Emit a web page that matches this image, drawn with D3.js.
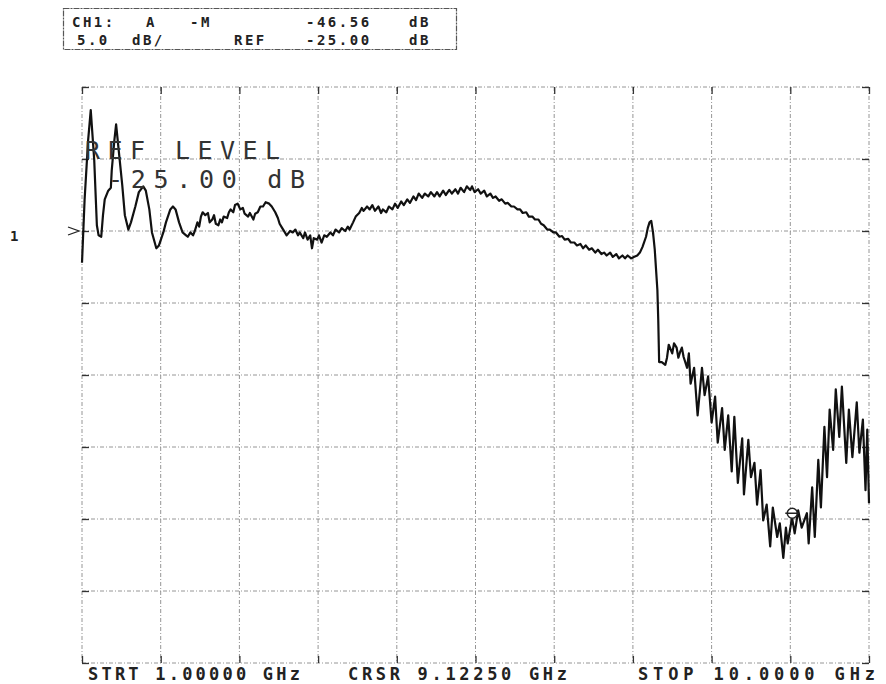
<!DOCTYPE html>
<html>
<head>
<meta charset="utf-8">
<script src="https://cdn.jsdelivr.net/npm/d3@7"></script>
<style>
  body { margin: 0; background: #fff; }
  svg { display: block; }
  text { font-family: "DejaVu Sans Mono", monospace; fill: #222; }
</style>
</head>
<body>
<div id="chart"></div>
<script>
// analyzer settings
var startGHz = 1.0, stopGHz = 10.0;
var refLevelDb = -25, dbPerDiv = 5;
var cursorGHz = 9.1225, cursorDb = -46.56, cursorMarkDb = -44.6;

var xGrid = [1.0, 1.9, 2.8, 3.7, 4.6, 5.5, 6.4, 7.3, 8.2, 9.1, 10.0];
var yGrid = [-15, -20, -25, -30, -35, -40, -45, -50, -55];

var headerLine1 = [["CH1:", 72], ["A", 146], ["-M", 190], ["-46.56", 306], ["dB", 409]];
var headerLine2 = [["5.0", 77], ["dB/", 132], ["REF", 234], ["-25.00", 306], ["dB", 409]];
var footerLabels = ["STRT 1.00000 GHz", "CRSR 9.12250 GHz", "STOP 10.0000 GHz"];

// trace: [GHz, dB]
var trace = [
  [1.00,-27.2],[1.03,-22.8],[1.07,-18.7],[1.10,-16.6],[1.14,-20.1],[1.17,-24.6],[1.19,-25.3],[1.22,-25.4],
  [1.24,-23.9],[1.26,-22.8],[1.30,-22.2],[1.33,-22.0],[1.34,-20.8],[1.37,-18.7],[1.39,-17.6],[1.42,-19.4],
  [1.46,-21.8],[1.49,-23.9],[1.53,-24.9],[1.56,-24.4],[1.61,-23.3],[1.65,-22.3],[1.70,-21.9],[1.73,-22.2],
  [1.77,-23.5],[1.80,-25.1],[1.85,-26.2],[1.88,-26.0],[1.93,-25.1],[1.96,-24.4],[2.01,-23.5],[2.04,-23.3],
  [2.07,-23.5],[2.11,-24.4],[2.15,-25.1],[2.19,-25.3],[2.21,-25.4],[2.24,-25.1],[2.27,-25.3],[2.29,-25.0],
  [2.32,-24.4],[2.34,-24.7],[2.36,-24.0],[2.38,-23.7],[2.41,-23.9],[2.44,-23.75],[2.46,-24.4],[2.49,-24.2],
  [2.51,-23.9],[2.53,-24.5],[2.56,-24.6],[2.58,-24.2],[2.60,-24.4],[2.62,-24.0],[2.66,-24.1],[2.68,-23.7],
  [2.70,-23.5],[2.73,-23.7],[2.75,-23.2],[2.78,-23.1],[2.81,-23.5],[2.84,-23.4],[2.86,-23.8],[2.90,-24.0],
  [2.92,-23.75],[2.96,-24.2],[2.98,-23.8],[3.01,-23.7],[3.04,-23.3],[3.07,-23.3],[3.10,-23.0],[3.14,-23.1],
  [3.17,-23.3],[3.21,-23.7],[3.24,-24.1],[3.26,-24.5],[3.29,-24.8],[3.32,-25.1],[3.34,-25.3],[3.38,-25.0],
  [3.41,-25.1],[3.44,-24.9],[3.47,-25.3],[3.49,-25.1],[3.53,-25.5],[3.55,-25.1],[3.58,-25.6],[3.61,-25.3],
  [3.63,-26.2],[3.65,-25.5],[3.69,-25.6],[3.71,-25.3],[3.74,-25.8],[3.77,-25.3],[3.80,-25.4],[3.84,-25.1],
  [3.87,-25.3],[3.90,-24.9],[3.94,-25.1],[3.97,-24.8],[4.01,-25.0],[4.04,-24.7],[4.06,-24.9],[4.10,-24.4],
  [4.13,-24.0],[4.17,-23.75],[4.20,-23.4],[4.22,-23.6],[4.26,-23.3],[4.29,-23.5],[4.32,-23.2],[4.35,-23.6],
  [4.39,-23.3],[4.42,-23.75],[4.44,-23.5],[4.48,-23.7],[4.51,-23.3],[4.55,-23.5],[4.58,-23.1],[4.61,-23.4],
  [4.65,-22.95],[4.68,-23.2],[4.72,-22.8],[4.75,-23.05],[4.79,-22.6],[4.82,-22.85],[4.85,-22.4],[4.89,-22.7],
  [4.92,-22.4],[4.96,-22.6],[4.99,-22.3],[5.03,-22.6],[5.06,-22.3],[5.09,-22.6],[5.13,-22.2],[5.16,-22.5],
  [5.20,-22.15],[5.23,-22.4],[5.27,-22.1],[5.30,-22.4],[5.33,-22.0],[5.37,-22.3],[5.40,-21.9],[5.44,-22.15],
  [5.46,-21.9],[5.49,-22.3],[5.53,-22.1],[5.56,-22.4],[5.60,-22.2],[5.63,-22.6],[5.67,-22.4],[5.70,-22.7],
  [5.73,-22.6],[5.77,-22.9],[5.80,-22.8],[5.84,-23.1],[5.87,-23.05],[5.91,-23.3],[5.94,-23.3],[5.98,-23.5],
  [6.01,-23.5],[6.04,-23.75],[6.08,-23.7],[6.11,-24.0],[6.15,-24.0],[6.18,-24.2],[6.22,-24.2],[6.25,-24.5],
  [6.28,-24.6],[6.32,-24.9],[6.35,-24.9],[6.39,-25.1],[6.42,-25.1],[6.46,-25.4],[6.49,-25.35],[6.52,-25.6],
  [6.56,-25.55],[6.59,-25.8],[6.63,-25.8],[6.66,-26.0],[6.70,-25.9],[6.73,-26.2],[6.76,-26.0],[6.80,-26.3],
  [6.83,-26.2],[6.87,-26.5],[6.90,-26.3],[6.94,-26.6],[6.97,-26.5],[7.00,-26.7],[7.04,-26.5],[7.07,-26.8],
  [7.11,-26.6],[7.14,-26.9],[7.18,-26.7],[7.21,-26.9],[7.24,-26.7],[7.28,-26.9],[7.31,-26.8],[7.35,-26.7],
  [7.38,-26.5],[7.41,-26.1],[7.45,-25.4],[7.47,-24.8],[7.49,-24.4],[7.51,-24.3],[7.53,-25.1],[7.55,-26.3],
  [7.58,-29.1],[7.59,-31.2],[7.60,-34.1],[7.63,-34.1],[7.67,-34.3],[7.69,-33.8],[7.71,-32.9],[7.75,-33.5],
  [7.77,-32.8],[7.80,-33.1],[7.82,-33.8],[7.84,-33.4],[7.86,-33.1],[7.88,-33.75],[7.92,-34.5],[7.94,-33.5],
  [7.96,-35.6],[8.00,-34.5],[8.04,-37.8],[8.09,-34.5],[8.12,-36.4],[8.16,-35.1],[8.20,-38.3],[8.24,-36.5],
  [8.27,-39.7],[8.32,-37.3],[8.35,-40.2],[8.39,-37.8],[8.43,-41.7],[8.46,-37.9],[8.50,-42.5],[8.55,-39.4],
  [8.57,-43.3],[8.62,-39.5],[8.65,-42.1],[8.69,-41.1],[8.72,-44.0],[8.76,-41.6],[8.79,-45.1],[8.83,-44.0],
  [8.87,-46.9],[8.90,-44.2],[8.95,-46.25],[8.98,-45.3],[9.02,-47.7],[9.05,-45.6],[9.07,-46.7],[9.12,-44.9],
  [9.15,-46.0],[9.19,-44.4],[9.23,-45.6],[9.29,-44.6],[9.31,-46.7],[9.35,-42.8],[9.38,-46.25],[9.42,-40.9],
  [9.45,-44.2],[9.49,-38.6],[9.52,-42.1],[9.55,-37.4],[9.59,-40.2],[9.62,-36.0],[9.66,-39.3],[9.69,-35.8],
  [9.74,-41.1],[9.77,-37.4],[9.81,-40.7],[9.86,-36.9],[9.89,-40.4],[9.93,-38.1],[9.96,-43.0],[9.98,-38.8],
  [10.00,-43.9]
];

var W = 886, H = 684;
var margin = {top: 87, right: 17, bottom: 21, left: 82},
    width = W - margin.left - margin.right,
    height = H - margin.top - margin.bottom;

var svg = d3.select("#chart").append("svg")
    .attr("width", W)
    .attr("height", H);

var g = svg.append("g")
    .attr("transform", "translate(" + margin.left + "," + margin.top + ")");

var x = d3.scaleLinear().domain([startGHz, stopGHz]).range([0, width]);
var y = d3.scaleLinear()
    .domain([refLevelDb - 6 * dbPerDiv, refLevelDb + 2 * dbPerDiv])
    .range([height, 0]);

// dotted graticule
g.append("g")
   .attr("class", "grid")
   .selectAll("line.v")
   .data(xGrid)
   .enter().append("line")
     .attr("x1", function(d) { return x(d); })
     .attr("x2", function(d) { return x(d); })
     .attr("y1", 0)
     .attr("y2", height);

g.select(".grid")
   .selectAll("line.h")
   .data(yGrid)
   .enter().append("line")
     .attr("class", "h")
     .attr("x1", 0)
     .attr("x2", width)
     .attr("y1", function(d) { return y(d); })
     .attr("y2", function(d) { return y(d); });

g.selectAll(".grid line")
   .style("stroke", "#8a8a8a")
   .style("stroke-width", 0.9)
   .style("stroke-dasharray", "4,2,1,2");

// short dark ticks where the graticule meets the border
var tickLen = 7;
g.append("g")
   .attr("class", "ticks top")
   .call(d3.axisBottom(x).tickValues(xGrid).tickSize(tickLen).tickFormat(""));
g.append("g")
   .attr("class", "ticks bottom")
   .attr("transform", "translate(0," + height + ")")
   .call(d3.axisTop(x).tickValues(xGrid).tickSize(tickLen).tickFormat(""));
g.append("g")
   .attr("class", "ticks left")
   .call(d3.axisRight(y).tickValues(yGrid).tickSize(tickLen).tickFormat(""));
g.append("g")
   .attr("class", "ticks right")
   .attr("transform", "translate(" + width + ",0)")
   .call(d3.axisLeft(y).tickValues(yGrid).tickSize(tickLen).tickFormat(""));

g.selectAll(".ticks .domain").remove();
g.selectAll(".ticks line")
   .style("stroke", "#333")
   .style("stroke-width", 1.3);

// the measured trace
var traceLine = d3.line()
    .x(function(d) { return x(d[0]); })
    .y(function(d) { return y(d[1]); });

g.append("path")
   .datum(trace)
   .attr("d", traceLine)
   .style("fill", "none")
   .style("stroke", "#111")
   .style("stroke-width", 2.2)
   .style("stroke-linejoin", "round");

// cursor marker
var mark = g.append("g")
   .attr("transform", "translate(" + x(cursorGHz) + "," + y(cursorMarkDb) + ")");
mark.append("circle")
   .attr("r", 5)
   .style("fill", "#fff")
   .style("stroke", "#222")
   .style("stroke-width", 1.5);
mark.append("line")
   .attr("x1", -7).attr("x2", 7)
   .style("stroke", "#222")
   .style("stroke-width", 1.5);

// reference position arrow and channel number
svg.append("path")
   .attr("d", "M" + (margin.left - 14) + "," + (margin.top + y(refLevelDb) - 4) +
              "L" + (margin.left - 3) + "," + (margin.top + y(refLevelDb)) +
              "L" + (margin.left - 14) + "," + (margin.top + y(refLevelDb) + 4))
   .style("fill", "none")
   .style("stroke", "#222")
   .style("stroke-width", 1.3);

svg.append("text")
   .attr("x", 10)
   .attr("y", margin.top + y(refLevelDb) + 10)
   .style("font-size", "14px")
   .style("font-weight", "bold")
   .text("1");

// REF LEVEL annotation
svg.append("text")
   .attr("x", 85)
   .attr("y", 159)
   .attr("textLength", 195)
   .attr("lengthAdjust", "spacing")
   .style("font-size", "25px")
   .style("fill", "#333")
   .text("REF LEVEL");

svg.append("text")
   .attr("x", 108)
   .attr("y", 188)
   .attr("textLength", 197)
   .attr("lengthAdjust", "spacing")
   .style("font-size", "25px")
   .style("fill", "#333")
   .text("-25.00 dB");

// header box
svg.append("rect")
   .attr("x", 63.5).attr("y", 8.5)
   .attr("width", 393).attr("height", 41)
   .style("fill", "none")
   .style("stroke", "#555")
   .style("stroke-width", 1.2)
   .style("stroke-dasharray", "6,1,2,1");

svg.append("g").selectAll("text")
   .data(headerLine1)
   .enter().append("text")
     .attr("x", function(d) { return d[1]; })
     .attr("y", 27)
     .style("font-size", "14px")
     .style("font-weight", "bold")
     .style("letter-spacing", "2.5px")
     .text(function(d) { return d[0]; });

svg.append("g").selectAll("text")
   .data(headerLine2)
   .enter().append("text")
     .attr("x", function(d) { return d[1]; })
     .attr("y", 45)
     .style("font-size", "14px")
     .style("font-weight", "bold")
     .style("letter-spacing", "2.5px")
     .text(function(d) { return d[0]; });

// start / cursor / stop footer
var footerX = [88, 348, 638], footerW = [212, 219, 237];
svg.append("g").selectAll("text")
   .data(footerLabels)
   .enter().append("text")
     .attr("x", function(d, i) { return footerX[i]; })
     .attr("y", 680)
     .attr("textLength", function(d, i) { return footerW[i]; })
     .attr("lengthAdjust", "spacing")
     .style("font-size", "17px")
     .style("font-weight", "bold")
     .text(function(d) { return d; });
</script>
</body>
</html>
